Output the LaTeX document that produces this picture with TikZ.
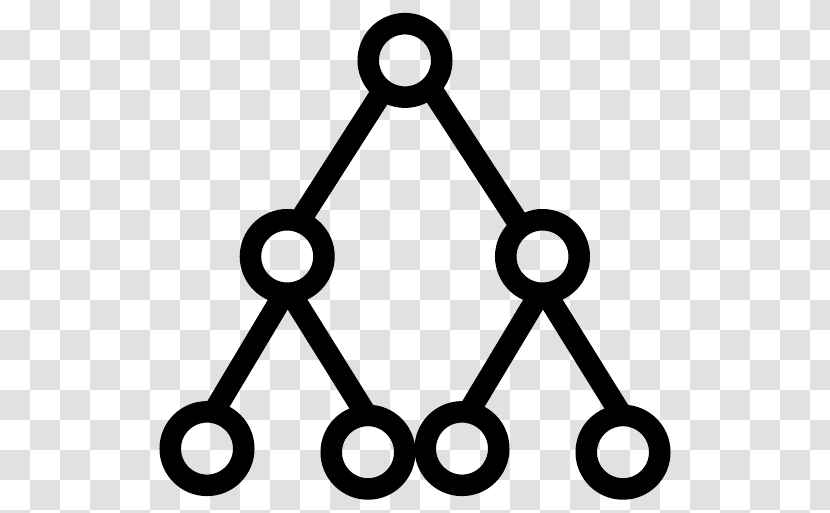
\documentclass[tikz,border=0pt]{standalone}
\definecolor{tile}{RGB}{225,225,225}
\tikzset{ring/.style={circle,draw=black,line width=21.5pt,minimum size=73.5pt,inner sep=0pt,outer sep=0pt},
link/.style={draw=black,line width=22pt}}
\begin{document}
\begin{tikzpicture}[x=1pt,y=-1pt]
\useasboundingbox[fill=white] (0,0) rectangle (830,512);
\begin{scope}
\clip (0,0) rectangle (830,512);
\foreach \i in {0,...,27}{\foreach \j in {0,...,17}{
  \pgfmathparse{int(mod(\i+\j,2))}
  \ifnum\pgfmathresult=1
    \fill[tile] (30*\i,30*\j) rectangle (30*\i+30,30*\j+30);
  \fi
}}
\end{scope}
\node[ring] (t) at (405,60.4) {};
\node[ring] (a) at (287.2,256.5) {};
\node[ring] (b) at (542.5,256.5) {};
\node[ring] (c) at (207,448.6) {};
\node[ring] (d) at (368,452.2) {};
\node[ring] (e) at (462,448.6) {};
\node[ring] (f) at (623,452.2) {};
\draw[link] (t.234.2) -- (a.71.7);
\draw[link] (t.313.1) -- (b.126.7);
\draw[link] (a.266.3) -- (c.80.7);
\draw[link] (a.275.2) -- (d.92.5);
\draw[link] (b.266.3) -- (e.80.7);
\draw[link] (b.275.2) -- (f.92.5);
\end{tikzpicture}
\end{document}
